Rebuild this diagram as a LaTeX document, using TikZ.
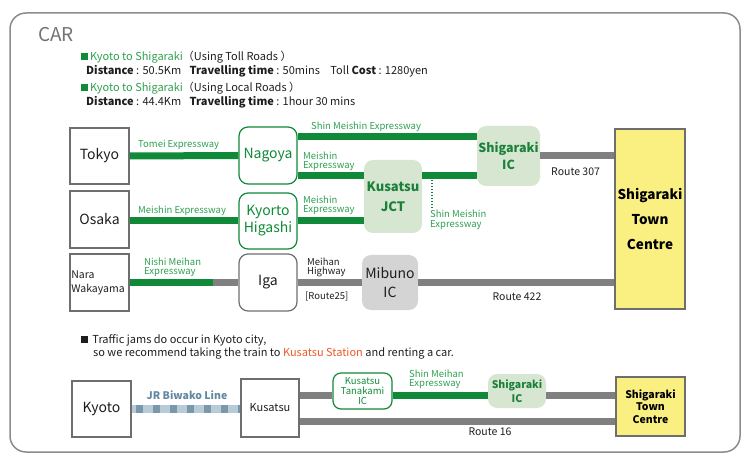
\documentclass[tikz,border=0pt]{standalone}
\usepackage{fontspec}
\setmainfont{Noto Sans CJK JP}
\usetikzlibrary{calc}
\definecolor{gline}{RGB}{16,138,56}
\definecolor{glabel}{RGB}{46,160,80}
\definecolor{gdark}{RGB}{28,128,58}
\definecolor{gfill}{RGB}{214,230,209}
\definecolor{grline}{RGB}{128,128,128}
\definecolor{bordgray}{RGB}{110,110,110}
\definecolor{mfill}{RGB}{212,212,212}
\definecolor{tyellow}{RGB}{250,240,130}
\definecolor{orng}{RGB}{235,90,40}
\definecolor{framegray}{RGB}{140,140,140}
\definecolor{cargray}{RGB}{115,115,115}
\definecolor{jrlight}{RGB}{185,203,216}
\definecolor{jrdark}{RGB}{123,151,171}
\definecolor{jrtext}{RGB}{100,135,160}
\definecolor{txt}{RGB}{30,30,30}
\begin{document}
\begin{tikzpicture}[x=1pt,y=-1pt,
  city/.style={draw=bordgray,line width=1.2pt,fill=white,inner sep=0pt,text=txt,font=\fontsize{14}{16}\selectfont},
  gnode/.style={draw=gline,line width=1.2pt,fill=white,rounded corners=9pt,inner sep=0pt,text=gline,align=center,font=\fontsize{14}{16}\selectfont},
  icnode/.style={fill=gfill,rounded corners=9pt,inner sep=0pt,text=gdark,align=center,font=\bfseries\fontsize{12.5}{17}\selectfont},
  gbar/.style={draw=gline,line width=7pt},
  graybar/.style={draw=grline,line width=7pt},
  glab/.style={text=glabel,inner sep=0pt,align=left,font=\fontsize{9.5}{9.5}\selectfont},
  klab/.style={text=txt,inner sep=0pt,align=left,font=\fontsize{9.5}{9.5}\selectfont},
  rlab/.style={text=txt,inner sep=0pt,font=\fontsize{10.5}{12}\selectfont},
  info/.style={text=txt,inner sep=0pt,anchor=west,font=\fontsize{11}{12}\selectfont},
]
\useasboundingbox (0,0) rectangle (750,465);
\draw[framegray,line width=1.5pt,rounded corners=16pt] (10,13) rectangle (740,452);

% header
\node[anchor=west,inner sep=0pt,text=cargray,font=\fontsize{19}{20}\selectfont] (car) at (38,35) {CAR};
\node[info] (l1) at (81,57) {\textcolor{gline}{\rule{7pt}{7pt}}\,\textcolor{glabel}{Kyoto to Shigaraki}（Using Toll Roads ）};
\node[info] (l2) at (86,71.5) {\textbf{Distance} : 50.5Km\hspace{6pt} \textbf{Travelling time} : 50mins\hspace{8pt} Toll \textbf{Cost} : 1280yen};
\node[info] (l3) at (81,88) {\textcolor{gline}{\rule{7pt}{7pt}}\,\textcolor{glabel}{Kyoto to Shigaraki}（Using Local Roads ）};
\node[info] (l4) at (86,102) {\textbf{Distance} : 44.4Km\hspace{6pt} \textbf{Travelling time} : 1hour 30 mins};

% main nodes
\node[city,minimum width=59pt,minimum height=56pt] (tokyo) at (99.5,156) {Tokyo};
\node[city,minimum width=59pt,minimum height=57pt] (osaka) at (99.5,219.5) {Osaka};
\node[city,minimum width=59pt,minimum height=57pt,align=left,font=\fontsize{10.5}{14}\selectfont] (nara) at (99.5,282.5) {Nara\\Wakayama\phantom{l}};
\node[gnode,minimum width=58pt,minimum height=57pt] (nagoya) at (268,155.5) {Nagoya};
\node[gnode,minimum width=58pt,minimum height=56pt,font=\fontsize{14}{17}\selectfont] (kh) at (268,221) {Kyorto\\Higashi};
\node[gnode,draw=bordgray,text=txt,minimum width=58pt,minimum height=57pt] (iga) at (268,282.5) {Iga};
\node[icnode,minimum width=58pt,minimum height=73pt,font=\bfseries\fontsize{13}{20}\selectfont] (jct) at (393,196.5) {Kusatsu\\JCT};
\node[icnode,minimum width=63pt,minimum height=60pt] (sigic) at (508.5,156) {Shigaraki\\IC};
\node[icnode,fill=mfill,text=txt,minimum width=56pt,minimum height=55pt,font=\fontsize{14}{19}\selectfont] (mibuno) at (390,282.5) {Mibuno\\IC};
\node[draw=bordgray,line width=1.2pt,fill=tyellow,inner sep=0pt,minimum width=70pt,minimum height=180pt,align=center,text=black,font=\bfseries\fontsize{13.5}{25}\selectfont] (town) at (650,219) {Shigaraki\\Town\\Centre};

% main connectors
\draw[gbar] (tokyo.east) -- (nagoya.west);
\draw[gbar] ([yshift=18.5pt]nagoya.east) -- ([yshift=18.5pt]nagoya.east -| sigic.west);
\draw[gbar] ([yshift=-20.5pt]nagoya.east) -- ([yshift=-20.5pt]nagoya.east -| jct.west);
\draw[gbar] ([yshift=-20pt]sigic.west) -- ([yshift=-20pt]sigic.west -| jct.east);
\coordinate (dtop) at (432,180);
\coordinate (dbot) at (432,208);
\draw[gline,line width=1.2pt,dash pattern=on 1.5pt off 1.5pt] (dtop) -- (dbot);
\draw[gbar] (osaka.east |- kh.west) -- (kh.west);
\draw[gbar] (kh.east) -- (kh.east -| jct.west);
\draw[graybar] (sigic.east) -- (sigic.east -| town.west);
\coordinate (split) at (213,282.5);
\draw[graybar] (split) -- (iga.west);
\draw[gbar] (nara.east) -- (split);
\draw[graybar] (iga.east) -- (mibuno.west);
\draw[graybar] (mibuno.east) -- (mibuno.east -| town.west);

% main labels
\node[glab,anchor=west] (lt) at (138,145) {Tomei Expressway};
\node[glab,anchor=west] (lsm) at (311,126.5) {Shin Meishin Expressway};
\node[glab,anchor=west] (lm1) at (303,161.5) {Meishin\\Expressway};
\node[glab,anchor=west] (lo) at (138,210.5) {Meishin Expressway};
\node[glab,anchor=west] (lm2) at (303,205.5) {Meishin\\Expressway};
\node[glab,anchor=west] (lsm2) at (430,220) {Shin Meishin\\Expressway};
\node[rlab,anchor=west] (l307) at (551,172) {Route 307};
\node[glab,anchor=west] (lnm) at (144,267.5) {Nishi Meihan\\Expressway};
\node[klab,anchor=west] (lmh) at (307,267.5) {Meihan\\Highway};
\node[klab,anchor=west] (lr25) at (305,296.5) {[Route25]};
\node[rlab] (l422) at (517,297) {Route 422};

% note
\node[info] (n1) at (81,340) {\rule{7pt}{7pt}\, Traffic jams do occur in Kyoto city,};
\node[info] (n2) at (93,353) {so we recommend taking the train to \textcolor{orng}{Kusatsu Station} and renting a car.};

% bottom
\node[city,minimum width=59pt,minimum height=56pt] (kyoto) at (101.5,409) {Kyoto};
\node[city,minimum width=58pt,minimum height=58pt,font=\fontsize{11}{13}\selectfont] (kus) at (270,408) {Kusatsu};
\node[gnode,minimum width=59pt,minimum height=36pt,rounded corners=8pt,font=\fontsize{9.5}{10}\selectfont] (tan) at (362.5,391) {Kusatsu\\Tanakami\\IC};
\node[icnode,minimum width=58pt,minimum height=34pt,font=\bfseries\fontsize{10.5}{14}\selectfont] (sigic2) at (517,391) {Shigaraki\\IC};
\node[draw=bordgray,line width=1.2pt,fill=tyellow,inner sep=0pt,minimum width=69pt,minimum height=59pt,align=center,text=black,font=\bfseries\fontsize{10.5}{12.5}\selectfont] (town2) at (650.5,406.5) {Shigaraki\\Town\\Centre};

\draw[jrlight,line width=8pt] (kyoto.east) -- (kyoto.east -| kus.west);
\draw[jrdark,line width=8pt,dash pattern=on 7pt off 10pt,dash phase=13pt] (kyoto.east) -- (kyoto.east -| kus.west);
\draw[graybar] ([yshift=13pt]kus.east) -- ([yshift=13pt]kus.east -| tan.west);
\draw[gbar] ([yshift=-4pt]tan.east) -- ([yshift=-4pt]tan.east -| sigic2.west);
\draw[graybar] ([yshift=-4pt]sigic2.east) -- ([yshift=-4pt]sigic2.east -| town2.west);
\draw[graybar] ([yshift=-13pt]kus.east) -- ([yshift=-13pt]kus.east -| town2.west);

\node[inner sep=0pt,text=jrtext,font=\bfseries\fontsize{10.5}{12}\selectfont] (ljr) at (187,395) {JR Biwako Line};
\node[glab,anchor=west] (lsmh) at (409,379.5) {Shin Meihan\\Expressway};
\node[rlab] (l16) at (490,432) {Route 16};
\end{tikzpicture}
\end{document}
